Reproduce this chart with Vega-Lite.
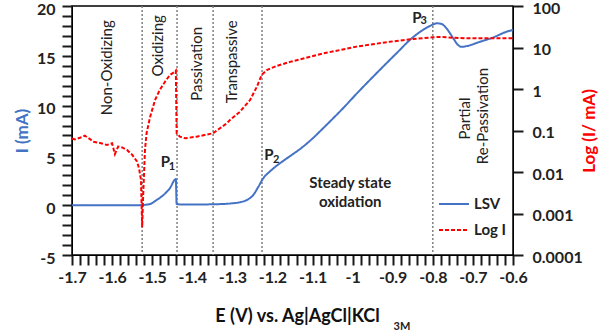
{
  "$schema": "https://vega.github.io/schema/vega-lite/v6.json",
  "width": 441,
  "height": 249,
  "autosize": {"type": "none"},
  "padding": {"left": 72, "top": 6, "right": 87, "bottom": 76},
  "background": "white",
  "config": {
    "view": {"stroke": "black", "strokeWidth": 1.5},
    "font": "Lato",
    "axis": {"grid": false, "domainColor": "#000000", "labelFont": "Lato", "labelFontSize": 16, "labelFontWeight": "bold", "labelColor": "#222222", "titleFont": "Lato", "titleFontWeight": "bold", "titleFontSize": 17}
  },
  "datasets": {
    "lsv": [
      {"E": -1.7, "I": 0}, {"E": -1.65, "I": 0}, {"E": -1.6, "I": 0}, {"E": -1.55, "I": 0}, {"E": -1.525, "I": 0.01},
      {"E": -1.515, "I": 0.05}, {"E": -1.505, "I": 0.12}, {"E": -1.489, "I": 0.52}, {"E": -1.472, "I": 1.02}, {"E": -1.456, "I": 1.7},
      {"E": -1.441, "I": 2.63}, {"E": -1.439, "I": 0.12}, {"E": -1.43, "I": 0.08}, {"E": -1.4, "I": 0.07}, {"E": -1.35, "I": 0.09},
      {"E": -1.3, "I": 0.19}, {"E": -1.28, "I": 0.3}, {"E": -1.264, "I": 0.52}, {"E": -1.248, "I": 1.02}, {"E": -1.235, "I": 1.86},
      {"E": -1.223, "I": 2.7}, {"E": -1.206, "I": 3.4}, {"E": -1.19, "I": 3.95}, {"E": -1.173, "I": 4.45}, {"E": -1.15, "I": 5.1},
      {"E": -1.131, "I": 5.65}, {"E": -1.1, "I": 6.7}, {"E": -1.073, "I": 7.75}, {"E": -1.048, "I": 8.75}, {"E": -1.02, "I": 9.9},
      {"E": -0.99, "I": 11.2}, {"E": -0.949, "I": 12.9}, {"E": -0.907, "I": 14.6}, {"E": -0.882, "I": 15.6}, {"E": -0.865, "I": 16.3},
      {"E": -0.832, "I": 17.4}, {"E": -0.807, "I": 18.0}, {"E": -0.79, "I": 18.26}, {"E": -0.778, "I": 18.2}, {"E": -0.766, "I": 17.76},
      {"E": -0.749, "I": 16.76}, {"E": -0.737, "I": 16.08}, {"E": -0.728, "I": 15.9}, {"E": -0.716, "I": 15.97}, {"E": -0.683, "I": 16.4},
      {"E": -0.649, "I": 16.85}, {"E": -0.616, "I": 17.42}, {"E": -0.6, "I": 17.6}
    ],
    "logi": [
      {"E": -1.7, "L": 0.064}, {"E": -1.693, "L": 0.061}, {"E": -1.68, "L": 0.067}, {"E": -1.668, "L": 0.075}, {"E": -1.655, "L": 0.062},
      {"E": -1.648, "L": 0.054}, {"E": -1.63, "L": 0.05}, {"E": -1.613, "L": 0.045}, {"E": -1.6, "L": 0.049}, {"E": -1.593, "L": 0.027},
      {"E": -1.585, "L": 0.041}, {"E": -1.575, "L": 0.039}, {"E": -1.563, "L": 0.034}, {"E": -1.55, "L": 0.026}, {"E": -1.538, "L": 0.018},
      {"E": -1.533, "L": 0.0125}, {"E": -1.528, "L": 0.0065}, {"E": -1.525, "L": 0.00047}, {"E": -1.523, "L": 0.002}, {"E": -1.518, "L": 0.034},
      {"E": -1.514, "L": 0.086}, {"E": -1.505, "L": 0.215}, {"E": -1.493, "L": 0.54}, {"E": -1.481, "L": 0.95}, {"E": -1.468, "L": 1.5},
      {"E": -1.456, "L": 2.17}, {"E": -1.443, "L": 2.61}, {"E": -1.441, "L": 2.76}, {"E": -1.439, "L": 0.086}, {"E": -1.431, "L": 0.071},
      {"E": -1.418, "L": 0.065}, {"E": -1.389, "L": 0.071}, {"E": -1.348, "L": 0.086}, {"E": -1.314, "L": 0.149}, {"E": -1.306, "L": 0.179},
      {"E": -1.281, "L": 0.284}, {"E": -1.256, "L": 0.54}, {"E": -1.239, "L": 1.13}, {"E": -1.227, "L": 2.17}, {"E": -1.214, "L": 2.87},
      {"E": -1.19, "L": 3.58}, {"E": -1.156, "L": 4.5}, {"E": -1.106, "L": 6.0}, {"E": -1.073, "L": 7.2}, {"E": -0.99, "L": 10.5},
      {"E": -0.907, "L": 13.8}, {"E": -0.849, "L": 16.0}, {"E": -0.8, "L": 17.6}, {"E": -0.782, "L": 18.0}, {"E": -0.75, "L": 17.2},
      {"E": -0.716, "L": 16.6}, {"E": -0.65, "L": 16.6}, {"E": -0.6, "L": 16.6}
    ],
    "vlines": [{"E": -1.525}, {"E": -1.438}, {"E": -1.348}, {"E": -1.226}, {"E": -0.8}],
    "regions": [
      {"E": -1.613, "I": 13.8, "label": "Non-Oxidizing"},
      {"E": -1.486, "I": 16.0, "label": "Oxidizing"},
      {"E": -1.388, "I": 14.2, "label": "Passivation"},
      {"E": -1.301, "I": 14.4, "label": "Transpassive"},
      {"E": -0.72, "I": 8.7, "label": "Partial"},
      {"E": -0.675, "I": 8.95, "label": "Re-Passivation"}
    ],
    "boldtext": [
      {"E": -1.006, "I": 2.23, "label": "Steady state"},
      {"E": -1.006, "I": 0.35, "label": "oxidation"}
    ],
    "peaks": [
      {"E": -1.467, "I": 4.37, "label": "P"},
      {"E": -1.209, "I": 5.04, "label": "P"},
      {"E": -0.84, "I": 18.77, "label": "P"}
    ],
    "subs": [
      {"E": -1.451, "I": 3.84, "label": "1"},
      {"E": -1.191, "I": 4.54, "label": "2"},
      {"E": -0.823, "I": 18.5, "label": "3"},
      {"E": -0.877, "I": -12.2, "label": "3M"}
    ]
  },
  "layer": [
    {
      "layer": [
        {
          "data": {"name": "vlines"},
          "mark": {"type": "rule", "color": "#808080", "strokeDash": [2, 2], "strokeWidth": 1.5},
          "encoding": {
            "x": {"field": "E", "type": "quantitative", "scale": {"domain": [-1.7, -0.6], "nice": false, "zero": false}, "axis": null}
          }
        },
        {
          "data": {"name": "lsv"},
          "mark": {"type": "line", "strokeWidth": 2, "interpolate": "monotone"},
          "encoding": {
            "x": {
              "field": "E", "type": "quantitative",
              "scale": {"domain": [-1.7, -0.6], "nice": false, "zero": false},
              "axis": {
                "orient": "bottom",
                "title": "E (V) vs. Ag|AgCl|KCl",
                "titleFontSize": 18,
                "titleColor": "#111111",
                "titleX": 225,
                "titlePadding": 22,
                "values": [-1.7,-1.68,-1.66,-1.64,-1.62,-1.6,-1.58,-1.56,-1.54,-1.52,-1.5,-1.48,-1.46,-1.44,-1.42,-1.4,-1.38,-1.36,-1.34,-1.32,-1.3,-1.28,-1.26,-1.24,-1.22,-1.2,-1.18,-1.16,-1.14,-1.12,-1.1,-1.08,-1.06,-1.04,-1.02,-1.0,-0.98,-0.96,-0.94,-0.92,-0.9,-0.88,-0.86,-0.84,-0.82,-0.8,-0.78,-0.76,-0.74,-0.72,-0.7,-0.68,-0.66,-0.64,-0.62,-0.6],
                "labelExpr": "abs(datum.value*10 - round(datum.value*10)) < 0.001 ? '-' + format(abs(datum.value), '~g') : ''",
                "labelOverlap": false,
                "labelFlush": false,
                "labelPadding": 4,
                "ticks": true,
                "tickSize": 10,
                "tickColor": "#1a1a1a",
                "tickWidth": 2
              }
            },
            "y": {
              "field": "I", "type": "quantitative",
              "scale": {"domain": [-5, 20], "nice": false, "zero": false},
              "axis": {
                "orient": "left",
                "title": "I (mA)",
                "titleColor": "#4472C4",
                "titleFontSize": 17,
                "titlePadding": 5,
                "values": [-5,-4,-3,-2,-1,0,1,2,3,4,5,6,7,8,9,10,11,12,13,14,15,16,17,18,19,20],
                "labelExpr": "datum.value % 5 === 0 ? (datum.value < 0 ? '-' + format(-datum.value, 'd') : format(datum.value, 'd')) : ''",
                "labelOverlap": false,
                "labelFlush": false,
                "labelPadding": 7,
                "labelOffset": 3,
                "ticks": true,
                "tickSize": 10,
                "tickColor": "#1a1a1a",
                "tickWidth": 2
              }
            },
            "color": {
              "datum": "LSV",
              "scale": {"domain": ["LSV", "Log I"], "range": ["#4472C4", "#FF0000"]},
              "legend": {"orient": "none", "legendX": 366, "legendY": 182, "title": null, "symbolType": "stroke", "symbolSize": 900, "symbolStrokeWidth": 2, "labelFont": "Lato", "labelFontSize": 15, "labelFontWeight": "bold", "labelColor": "#222222", "padding": 0, "rowPadding": 2, "labelOffset": 4}
            },
            "strokeDash": {
              "datum": "LSV",
              "scale": {"domain": ["LSV", "Log I"], "range": [[1, 0], [4, 2]]},
              "legend": {"orient": "none", "legendX": 366, "legendY": 182, "title": null, "symbolType": "stroke", "symbolSize": 900, "symbolStrokeWidth": 2, "labelFont": "Lato", "labelFontSize": 15, "labelFontWeight": "bold", "labelColor": "#222222", "padding": 0, "rowPadding": 2, "labelOffset": 4}
            }
          }
        },
        {
          "data": {"name": "regions"},
          "mark": {"type": "text", "angle": 270, "align": "center", "baseline": "middle", "font": "Lato", "fontSize": 15, "color": "#222222"},
          "encoding": {
            "x": {"field": "E", "type": "quantitative", "scale": {"domain": [-1.7, -0.6], "nice": false, "zero": false}, "axis": null},
            "y": {"field": "I", "type": "quantitative", "scale": {"domain": [-5, 20], "nice": false, "zero": false}, "axis": null},
            "text": {"field": "label"}
          }
        },
        {
          "data": {"name": "boldtext"},
          "mark": {"type": "text", "align": "center", "baseline": "middle", "font": "Lato", "fontSize": 15, "fontWeight": "bold", "color": "#222222"},
          "encoding": {
            "x": {"field": "E", "type": "quantitative", "scale": {"domain": [-1.7, -0.6], "nice": false, "zero": false}, "axis": null},
            "y": {"field": "I", "type": "quantitative", "scale": {"domain": [-5, 20], "nice": false, "zero": false}, "axis": null},
            "text": {"field": "label"}
          }
        },
        {
          "data": {"name": "peaks"},
          "mark": {"type": "text", "align": "center", "baseline": "middle", "font": "Lato", "fontSize": 15, "fontWeight": "bold", "color": "#222222"},
          "encoding": {
            "x": {"field": "E", "type": "quantitative", "scale": {"domain": [-1.7, -0.6], "nice": false, "zero": false}, "axis": null},
            "y": {"field": "I", "type": "quantitative", "scale": {"domain": [-5, 20], "nice": false, "zero": false}, "axis": null},
            "text": {"field": "label"}
          }
        },
        {
          "data": {"name": "subs"},
          "mark": {"type": "text", "align": "center", "baseline": "middle", "font": "Lato", "fontSize": 11, "fontWeight": "bold", "color": "#222222"},
          "encoding": {
            "x": {"field": "E", "type": "quantitative", "scale": {"domain": [-1.7, -0.6], "nice": false, "zero": false}, "axis": null},
            "y": {"field": "I", "type": "quantitative", "scale": {"domain": [-5, 20], "nice": false, "zero": false}, "axis": null},
            "text": {"field": "label"}
          }
        }
      ],
      "resolve": {"axis": {"x": "independent", "y": "independent"}}
    },
    {
      "data": {"name": "logi"},
      "mark": {"type": "line", "strokeWidth": 2},
      "encoding": {
        "x": {"field": "E", "type": "quantitative", "scale": {"domain": [-1.7, -0.6], "nice": false, "zero": false}, "axis": null},
        "y": {
          "field": "L", "type": "quantitative",
          "scale": {"type": "log", "domain": [0.0001, 100], "nice": false},
          "axis": {
            "orient": "right",
            "title": "Log (I/ mA)",
            "titleColor": "#FF0000",
            "titleFontSize": 17,
            "titleAngle": 270,
            "titlePadding": 16,
            "values": [0.0001, 0.001, 0.01, 0.1, 1, 10, 100],
            "format": "~g",
            "labelOverlap": false,
            "labelFlush": false,
            "labelPadding": 9,
            "labelOffset": 2,
            "ticks": true,
            "tickSize": 10,
            "tickColor": "#1a1a1a",
            "tickWidth": 2
          }
        },
        "color": {"datum": "Log I", "scale": {"domain": ["LSV", "Log I"], "range": ["#4472C4", "#FF0000"]}},
        "strokeDash": {"datum": "Log I", "scale": {"domain": ["LSV", "Log I"], "range": [[1, 0], [4, 2]]}}
      }
    }
  ],
  "resolve": {"scale": {"y": "independent"}, "axis": {"x": "independent", "y": "independent"}}
}
